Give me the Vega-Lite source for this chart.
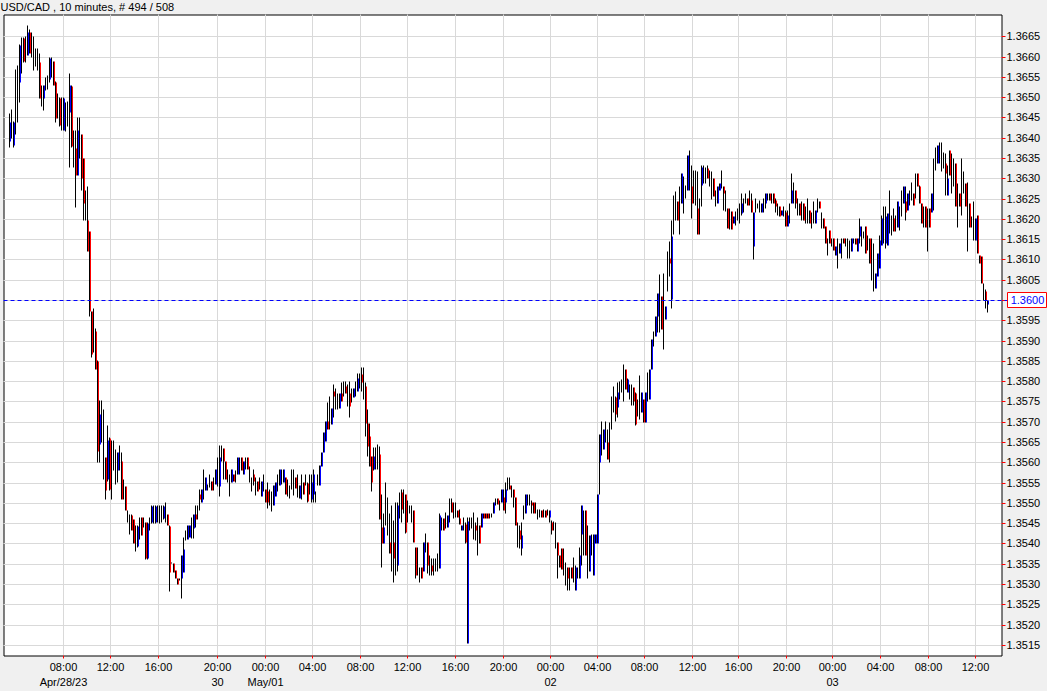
{
"$schema":"https://vega.github.io/schema/vega-lite/v6.json",
"width":998,"height":641,
"autosize":{"type":"none"},
"padding":{"left":3.5,"top":14.5,"right":45.5,"bottom":35.5},
"background":"#f0f0f0",
"title":{"text":"USD/CAD , 10 minutes, # 494 / 508","anchor":"start","frame":"group","offset":4,"dx":-3,"dy":11,"baseline":"alphabetic","font":"Liberation Sans","fontSize":11,"fontWeight":"normal","color":"#000000"},
"config":{"view":{"fill":"#ffffff","stroke":"#000000","strokeWidth":1},"axis":{"translate":0,"labelOverlap":false,"labelSeparation":0}},
"data":{"values":[
{"t":0,"o":1.36391,"h":1.3646,"l":1.36378,"c":1.3644},
{"t":1,"o":1.36435,"h":1.3647,"l":1.36399,"c":1.36435},
{"t":2,"o":1.36383,"h":1.36442,"l":1.36378,"c":1.3644},
{"t":3,"o":1.36489,"h":1.36569,"l":1.36409,"c":1.36489},
{"t":4,"o":1.3651,"h":1.36579,"l":1.3644,"c":1.3651},
{"t":5,"o":1.36538,"h":1.3663,"l":1.36489,"c":1.36628},
{"t":6,"o":1.36604,"h":1.36649,"l":1.36559,"c":1.36604},
{"t":7,"o":1.36645,"h":1.36649,"l":1.36587,"c":1.3659},
{"t":8,"o":1.36619,"h":1.3665,"l":1.36587,"c":1.36619},
{"t":9,"o":1.36605,"h":1.36679,"l":1.36605,"c":1.36661},
{"t":10,"o":1.36661,"h":1.36669,"l":1.3661,"c":1.3661},
{"t":11,"o":1.3663,"h":1.36661,"l":1.366,"c":1.3663},
{"t":12,"o":1.3661,"h":1.36651,"l":1.36567,"c":1.3661},
{"t":13,"o":1.366,"h":1.3662,"l":1.36578,"c":1.366},
{"t":14,"o":1.36593,"h":1.3662,"l":1.36567,"c":1.36593},
{"t":15,"o":1.36587,"h":1.3661,"l":1.36499,"c":1.36499},
{"t":16,"o":1.36505,"h":1.3653,"l":1.36479,"c":1.36505},
{"t":17,"o":1.36497,"h":1.3653,"l":1.36469,"c":1.3653},
{"t":18,"o":1.36534,"h":1.3655,"l":1.36518,"c":1.36534},
{"t":19,"o":1.36538,"h":1.36555,"l":1.3652,"c":1.36538},
{"t":20,"o":1.36546,"h":1.366,"l":1.36538,"c":1.36596},
{"t":21,"o":1.36575,"h":1.366,"l":1.3655,"c":1.36575},
{"t":22,"o":1.3659,"h":1.3659,"l":1.3653,"c":1.3653},
{"t":23,"o":1.36538,"h":1.3654,"l":1.3644,"c":1.36448},
{"t":24,"o":1.36479,"h":1.3651,"l":1.36448,"c":1.36479},
{"t":25,"o":1.36497,"h":1.36501,"l":1.3643,"c":1.36432},
{"t":26,"o":1.3646,"h":1.36501,"l":1.36419,"c":1.3646},
{"t":27,"o":1.36419,"h":1.36501,"l":1.36419,"c":1.36497},
{"t":28,"o":1.36453,"h":1.36489,"l":1.36417,"c":1.36453},
{"t":29,"o":1.3646,"h":1.36491,"l":1.36428,"c":1.3646},
{"t":30,"o":1.36464,"h":1.36559,"l":1.36329,"c":1.3653},
{"t":31,"o":1.36528,"h":1.3653,"l":1.36378,"c":1.3638},
{"t":32,"o":1.36374,"h":1.36419,"l":1.36329,"c":1.36374},
{"t":33,"o":1.36374,"h":1.36419,"l":1.36229,"c":1.36309},
{"t":34,"o":1.36309,"h":1.36451,"l":1.36309,"c":1.36419},
{"t":35,"o":1.364,"h":1.36451,"l":1.3635,"c":1.364},
{"t":36,"o":1.3641,"h":1.3641,"l":1.3627,"c":1.36301},
{"t":37,"o":1.3635,"h":1.3635,"l":1.36198,"c":1.36239},
{"t":38,"o":1.36235,"h":1.36272,"l":1.36198,"c":1.36235},
{"t":39,"o":1.36198,"h":1.36282,"l":1.36121,"c":1.36121},
{"t":40,"o":1.36171,"h":1.36171,"l":1.35961,"c":1.35973},
{"t":41,"o":1.35973,"h":1.35973,"l":1.3586,"c":1.35867},
{"t":42,"o":1.35926,"h":1.35981,"l":1.35871,"c":1.35926},
{"t":43,"o":1.35924,"h":1.35932,"l":1.3583,"c":1.3583},
{"t":44,"o":1.3585,"h":1.35852,"l":1.356,"c":1.35629},
{"t":45,"o":1.35645,"h":1.35754,"l":1.356,"c":1.35719},
{"t":46,"o":1.35702,"h":1.35754,"l":1.3565,"c":1.35702},
{"t":47,"o":1.35645,"h":1.35731,"l":1.35559,"c":1.35645},
{"t":48,"o":1.35613,"h":1.35613,"l":1.3551,"c":1.35531},
{"t":49,"o":1.35559,"h":1.35691,"l":1.35555,"c":1.35654},
{"t":50,"o":1.3566,"h":1.35662,"l":1.35531,"c":1.35533},
{"t":51,"o":1.35582,"h":1.35654,"l":1.3551,"c":1.35582},
{"t":52,"o":1.35617,"h":1.35654,"l":1.3558,"c":1.35617},
{"t":53,"o":1.3559,"h":1.35633,"l":1.35547,"c":1.3559},
{"t":54,"o":1.3558,"h":1.35625,"l":1.35551,"c":1.35625},
{"t":55,"o":1.35611,"h":1.35643,"l":1.3558,"c":1.35611},
{"t":56,"o":1.35604,"h":1.35625,"l":1.3551,"c":1.3551},
{"t":57,"o":1.35534,"h":1.35559,"l":1.3551,"c":1.35534},
{"t":58,"o":1.35541,"h":1.35541,"l":1.35482,"c":1.35482},
{"t":59,"o":1.35467,"h":1.35482,"l":1.35453,"c":1.35467},
{"t":60,"o":1.35448,"h":1.35473,"l":1.35424,"c":1.35448},
{"t":61,"o":1.35471,"h":1.35473,"l":1.35432,"c":1.35434},
{"t":62,"o":1.3546,"h":1.35461,"l":1.354,"c":1.35402},
{"t":63,"o":1.35413,"h":1.35445,"l":1.35381,"c":1.35413},
{"t":64,"o":1.35394,"h":1.35445,"l":1.35392,"c":1.35443},
{"t":65,"o":1.35438,"h":1.35465,"l":1.35412,"c":1.35438},
{"t":66,"o":1.35464,"h":1.35465,"l":1.3542,"c":1.35422},
{"t":67,"o":1.35453,"h":1.35465,"l":1.35441,"c":1.35453},
{"t":68,"o":1.35452,"h":1.35453,"l":1.35361,"c":1.35363},
{"t":69,"o":1.35363,"h":1.35453,"l":1.35361,"c":1.3545},
{"t":70,"o":1.35448,"h":1.35465,"l":1.35432,"c":1.35448},
{"t":71,"o":1.35453,"h":1.35494,"l":1.35451,"c":1.35492},
{"t":72,"o":1.35472,"h":1.35494,"l":1.35451,"c":1.35472},
{"t":73,"o":1.35453,"h":1.35494,"l":1.35451,"c":1.35492},
{"t":74,"o":1.35473,"h":1.35494,"l":1.35453,"c":1.35473},
{"t":75,"o":1.35472,"h":1.35494,"l":1.35451,"c":1.35472},
{"t":76,"o":1.35473,"h":1.35494,"l":1.35453,"c":1.35473},
{"t":77,"o":1.35463,"h":1.35494,"l":1.35461,"c":1.35492},
{"t":78,"o":1.35477,"h":1.35502,"l":1.35453,"c":1.35477},
{"t":79,"o":1.35472,"h":1.35473,"l":1.35445,"c":1.35446},
{"t":80,"o":1.35444,"h":1.35445,"l":1.35283,"c":1.3533},
{"t":81,"o":1.35353,"h":1.35355,"l":1.35351,"c":1.35353},
{"t":82,"o":1.35353,"h":1.35353,"l":1.3533,"c":1.3533},
{"t":83,"o":1.35334,"h":1.35334,"l":1.35314,"c":1.35314},
{"t":84,"o":1.35314,"h":1.35314,"l":1.35301,"c":1.35301},
{"t":85,"o":1.35312,"h":1.35314,"l":1.3531,"c":1.35312},
{"t":86,"o":1.35314,"h":1.35371,"l":1.35265,"c":1.35371},
{"t":87,"o":1.3533,"h":1.35416,"l":1.3533,"c":1.35387},
{"t":88,"o":1.3542,"h":1.35432,"l":1.35408,"c":1.3542},
{"t":89,"o":1.35412,"h":1.35445,"l":1.35412,"c":1.35445},
{"t":90,"o":1.35416,"h":1.35445,"l":1.35416,"c":1.35445},
{"t":91,"o":1.3544,"h":1.35465,"l":1.35414,"c":1.3544},
{"t":92,"o":1.35437,"h":1.35473,"l":1.35414,"c":1.35473},
{"t":93,"o":1.35473,"h":1.35494,"l":1.35441,"c":1.35461},
{"t":94,"o":1.35477,"h":1.35494,"l":1.35461,"c":1.35477},
{"t":95,"o":1.35523,"h":1.35533,"l":1.35482,"c":1.3551},
{"t":96,"o":1.35502,"h":1.35533,"l":1.35502,"c":1.35533},
{"t":97,"o":1.35547,"h":1.35584,"l":1.3551,"c":1.35547},
{"t":98,"o":1.35531,"h":1.35564,"l":1.35531,"c":1.35564},
{"t":99,"o":1.35539,"h":1.35547,"l":1.35531,"c":1.35539},
{"t":100,"o":1.35555,"h":1.35572,"l":1.35539,"c":1.35555},
{"t":101,"o":1.35555,"h":1.35555,"l":1.35531,"c":1.35531},
{"t":102,"o":1.35547,"h":1.35564,"l":1.35531,"c":1.35547},
{"t":103,"o":1.35547,"h":1.35584,"l":1.35547,"c":1.35584},
{"t":104,"o":1.35577,"h":1.35613,"l":1.35541,"c":1.35577},
{"t":105,"o":1.35541,"h":1.35643,"l":1.35518,"c":1.35613},
{"t":106,"o":1.35623,"h":1.35643,"l":1.35604,"c":1.35623},
{"t":107,"o":1.35635,"h":1.35635,"l":1.35559,"c":1.35604},
{"t":108,"o":1.35604,"h":1.35604,"l":1.35559,"c":1.35559},
{"t":109,"o":1.35567,"h":1.35584,"l":1.35551,"c":1.35567},
{"t":110,"o":1.35545,"h":1.35572,"l":1.35518,"c":1.35545},
{"t":111,"o":1.35551,"h":1.35584,"l":1.35551,"c":1.35584},
{"t":112,"o":1.35572,"h":1.35572,"l":1.35555,"c":1.35555},
{"t":113,"o":1.35565,"h":1.3558,"l":1.35551,"c":1.35565},
{"t":114,"o":1.35572,"h":1.35613,"l":1.35572,"c":1.35613},
{"t":115,"o":1.35593,"h":1.35613,"l":1.35572,"c":1.35593},
{"t":116,"o":1.35613,"h":1.35613,"l":1.3558,"c":1.3558},
{"t":117,"o":1.35571,"h":1.35604,"l":1.35571,"c":1.35604},
{"t":118,"o":1.35598,"h":1.35612,"l":1.35584,"c":1.35598},
{"t":119,"o":1.35612,"h":1.35612,"l":1.35584,"c":1.35584},
{"t":120,"o":1.35571,"h":1.35592,"l":1.35551,"c":1.35571},
{"t":121,"o":1.35546,"h":1.35563,"l":1.3553,"c":1.35546},
{"t":122,"o":1.35571,"h":1.35584,"l":1.35543,"c":1.35555},
{"t":123,"o":1.35541,"h":1.35563,"l":1.3552,"c":1.35541},
{"t":124,"o":1.35553,"h":1.35553,"l":1.3553,"c":1.3553},
{"t":125,"o":1.35548,"h":1.35563,"l":1.35533,"c":1.35548},
{"t":126,"o":1.35518,"h":1.35553,"l":1.35518,"c":1.35553},
{"t":127,"o":1.3555,"h":1.35571,"l":1.3553,"c":1.3555},
{"t":128,"o":1.35535,"h":1.35535,"l":1.35502,"c":1.35502},
{"t":129,"o":1.3553,"h":1.35551,"l":1.35487,"c":1.35502},
{"t":130,"o":1.35514,"h":1.35535,"l":1.35494,"c":1.35514},
{"t":131,"o":1.35505,"h":1.3553,"l":1.35481,"c":1.35505},
{"t":132,"o":1.35494,"h":1.35543,"l":1.35494,"c":1.35543},
{"t":133,"o":1.35518,"h":1.35551,"l":1.35518,"c":1.35551},
{"t":134,"o":1.3555,"h":1.35571,"l":1.3553,"c":1.3555},
{"t":135,"o":1.35543,"h":1.35584,"l":1.35543,"c":1.35584},
{"t":136,"o":1.35565,"h":1.35584,"l":1.35547,"c":1.35565},
{"t":137,"o":1.35551,"h":1.35584,"l":1.35551,"c":1.35584},
{"t":138,"o":1.35563,"h":1.35563,"l":1.35522,"c":1.35522},
{"t":139,"o":1.35538,"h":1.35559,"l":1.35518,"c":1.35538},
{"t":140,"o":1.35527,"h":1.35543,"l":1.35512,"c":1.35527},
{"t":141,"o":1.3556,"h":1.35584,"l":1.35535,"c":1.3556},
{"t":142,"o":1.35552,"h":1.35584,"l":1.3552,"c":1.35552},
{"t":143,"o":1.35563,"h":1.35563,"l":1.35536,"c":1.35536},
{"t":144,"o":1.35542,"h":1.35571,"l":1.35514,"c":1.35542},
{"t":145,"o":1.35512,"h":1.35543,"l":1.35512,"c":1.35543},
{"t":146,"o":1.3554,"h":1.35571,"l":1.3551,"c":1.3554},
{"t":147,"o":1.35551,"h":1.35551,"l":1.35522,"c":1.35522},
{"t":148,"o":1.35557,"h":1.35571,"l":1.35543,"c":1.35557},
{"t":149,"o":1.3555,"h":1.35551,"l":1.35502,"c":1.35504},
{"t":150,"o":1.35546,"h":1.35571,"l":1.35522,"c":1.35546},
{"t":151,"o":1.3551,"h":1.35571,"l":1.35502,"c":1.35551},
{"t":152,"o":1.35522,"h":1.35584,"l":1.35502,"c":1.35571},
{"t":153,"o":1.35516,"h":1.3553,"l":1.35502,"c":1.35516},
{"t":154,"o":1.35557,"h":1.35571,"l":1.35543,"c":1.35557},
{"t":155,"o":1.35543,"h":1.35594,"l":1.35543,"c":1.35594},
{"t":156,"o":1.35592,"h":1.35625,"l":1.35592,"c":1.35625},
{"t":157,"o":1.35625,"h":1.35674,"l":1.35625,"c":1.35674},
{"t":158,"o":1.35653,"h":1.35702,"l":1.35653,"c":1.35702},
{"t":159,"o":1.35702,"h":1.35748,"l":1.35682,"c":1.35682},
{"t":160,"o":1.35723,"h":1.35764,"l":1.35682,"c":1.35723},
{"t":161,"o":1.35694,"h":1.35735,"l":1.35694,"c":1.35735},
{"t":162,"o":1.35776,"h":1.35793,"l":1.35711,"c":1.35764},
{"t":163,"o":1.35757,"h":1.35784,"l":1.35731,"c":1.35757},
{"t":164,"o":1.35751,"h":1.35772,"l":1.35731,"c":1.35751},
{"t":165,"o":1.35735,"h":1.35772,"l":1.35735,"c":1.35772},
{"t":166,"o":1.35772,"h":1.35797,"l":1.35752,"c":1.35752},
{"t":167,"o":1.35782,"h":1.35801,"l":1.35764,"c":1.35782},
{"t":168,"o":1.35788,"h":1.35801,"l":1.35772,"c":1.35772},
{"t":169,"o":1.35766,"h":1.35793,"l":1.35739,"c":1.35766},
{"t":170,"o":1.35772,"h":1.35801,"l":1.35711,"c":1.35739},
{"t":171,"o":1.35766,"h":1.35784,"l":1.35748,"c":1.35766},
{"t":172,"o":1.3576,"h":1.35784,"l":1.3576,"c":1.35784},
{"t":173,"o":1.35782,"h":1.35801,"l":1.35764,"c":1.35782},
{"t":174,"o":1.35776,"h":1.35821,"l":1.35776,"c":1.35809},
{"t":175,"o":1.35802,"h":1.35821,"l":1.35784,"c":1.35802},
{"t":176,"o":1.35817,"h":1.35834,"l":1.35776,"c":1.35797},
{"t":177,"o":1.35795,"h":1.35834,"l":1.35756,"c":1.35795},
{"t":178,"o":1.35788,"h":1.35797,"l":1.35666,"c":1.35698},
{"t":179,"o":1.35698,"h":1.35731,"l":1.35616,"c":1.35641},
{"t":180,"o":1.35666,"h":1.35698,"l":1.35592,"c":1.35592},
{"t":181,"o":1.35616,"h":1.35616,"l":1.3553,"c":1.35551},
{"t":182,"o":1.35584,"h":1.35637,"l":1.3558,"c":1.35616},
{"t":183,"o":1.3561,"h":1.35637,"l":1.35584,"c":1.3561},
{"t":184,"o":1.35614,"h":1.35645,"l":1.35584,"c":1.35614},
{"t":185,"o":1.35621,"h":1.35641,"l":1.35461,"c":1.35461},
{"t":186,"o":1.35441,"h":1.35523,"l":1.35343,"c":1.354},
{"t":187,"o":1.354,"h":1.35474,"l":1.354,"c":1.35441},
{"t":188,"o":1.35498,"h":1.35552,"l":1.35445,"c":1.35498},
{"t":189,"o":1.35468,"h":1.35515,"l":1.35421,"c":1.35468},
{"t":190,"o":1.35404,"h":1.35474,"l":1.35376,"c":1.35376},
{"t":191,"o":1.35412,"h":1.35494,"l":1.35331,"c":1.35412},
{"t":192,"o":1.35404,"h":1.35457,"l":1.35306,"c":1.35363},
{"t":193,"o":1.35412,"h":1.35503,"l":1.35322,"c":1.35412},
{"t":194,"o":1.35347,"h":1.35503,"l":1.35331,"c":1.35494},
{"t":195,"o":1.35494,"h":1.35527,"l":1.35462,"c":1.35494},
{"t":196,"o":1.35527,"h":1.35534,"l":1.35453,"c":1.35486},
{"t":197,"o":1.35504,"h":1.35534,"l":1.35474,"c":1.35504},
{"t":198,"o":1.35523,"h":1.35523,"l":1.35425,"c":1.35428},
{"t":199,"o":1.3548,"h":1.35507,"l":1.35453,"c":1.3548},
{"t":200,"o":1.35484,"h":1.35494,"l":1.35474,"c":1.35484},
{"t":201,"o":1.35473,"h":1.35494,"l":1.35453,"c":1.35473},
{"t":202,"o":1.35482,"h":1.35482,"l":1.35404,"c":1.35404},
{"t":203,"o":1.35392,"h":1.35392,"l":1.35314,"c":1.35322},
{"t":204,"o":1.35357,"h":1.35392,"l":1.35322,"c":1.35357},
{"t":205,"o":1.35324,"h":1.35343,"l":1.35306,"c":1.35324},
{"t":206,"o":1.35343,"h":1.35343,"l":1.35314,"c":1.35314},
{"t":207,"o":1.35331,"h":1.35404,"l":1.35331,"c":1.35404},
{"t":208,"o":1.35402,"h":1.35425,"l":1.3538,"c":1.35402},
{"t":209,"o":1.35404,"h":1.35404,"l":1.35326,"c":1.35347},
{"t":210,"o":1.35346,"h":1.35371,"l":1.35322,"c":1.35346},
{"t":211,"o":1.35347,"h":1.35363,"l":1.35322,"c":1.35331},
{"t":212,"o":1.35342,"h":1.35363,"l":1.35322,"c":1.35342},
{"t":213,"o":1.35347,"h":1.35363,"l":1.35331,"c":1.35347},
{"t":214,"o":1.35353,"h":1.35376,"l":1.35331,"c":1.35353},
{"t":215,"o":1.35339,"h":1.35474,"l":1.35339,"c":1.3547},
{"t":216,"o":1.3545,"h":1.35466,"l":1.35433,"c":1.3545},
{"t":217,"o":1.35462,"h":1.35462,"l":1.35433,"c":1.35433},
{"t":218,"o":1.35457,"h":1.35478,"l":1.35437,"c":1.35457},
{"t":219,"o":1.35441,"h":1.3547,"l":1.35441,"c":1.3547},
{"t":220,"o":1.35482,"h":1.35511,"l":1.35453,"c":1.35482},
{"t":221,"o":1.35503,"h":1.35512,"l":1.35478,"c":1.35478},
{"t":222,"o":1.35482,"h":1.35503,"l":1.35462,"c":1.35482},
{"t":223,"o":1.35484,"h":1.35503,"l":1.35466,"c":1.35484},
{"t":224,"o":1.35482,"h":1.35482,"l":1.35466,"c":1.35466},
{"t":225,"o":1.35462,"h":1.35486,"l":1.35449,"c":1.35449},
{"t":226,"o":1.35433,"h":1.35445,"l":1.35433,"c":1.35445},
{"t":227,"o":1.3545,"h":1.35466,"l":1.35433,"c":1.3545},
{"t":228,"o":1.35449,"h":1.35453,"l":1.354,"c":1.35404},
{"t":229,"o":1.35155,"h":1.35466,"l":1.35154,"c":1.35455},
{"t":230,"o":1.3545,"h":1.35466,"l":1.35433,"c":1.3545},
{"t":231,"o":1.35451,"h":1.35466,"l":1.35437,"c":1.35451},
{"t":232,"o":1.35445,"h":1.35478,"l":1.35412,"c":1.35445},
{"t":233,"o":1.35445,"h":1.35453,"l":1.35408,"c":1.35433},
{"t":234,"o":1.35418,"h":1.35466,"l":1.35371,"c":1.35418},
{"t":235,"o":1.35445,"h":1.35445,"l":1.354,"c":1.354},
{"t":236,"o":1.35441,"h":1.35474,"l":1.35441,"c":1.35474},
{"t":237,"o":1.35474,"h":1.35474,"l":1.35462,"c":1.35462},
{"t":238,"o":1.35474,"h":1.35474,"l":1.35462,"c":1.35462},
{"t":239,"o":1.35474,"h":1.35474,"l":1.35462,"c":1.35462},
{"t":240,"o":1.35468,"h":1.35474,"l":1.35462,"c":1.35468},
{"t":241,"o":1.3547,"h":1.35474,"l":1.35466,"c":1.3547},
{"t":242,"o":1.35474,"h":1.35503,"l":1.35474,"c":1.35503},
{"t":243,"o":1.35503,"h":1.35512,"l":1.35494,"c":1.35503},
{"t":244,"o":1.35512,"h":1.35512,"l":1.35498,"c":1.35498},
{"t":245,"o":1.35494,"h":1.35507,"l":1.35482,"c":1.35494},
{"t":246,"o":1.35502,"h":1.35533,"l":1.35502,"c":1.35533},
{"t":247,"o":1.35515,"h":1.35533,"l":1.35482,"c":1.35482},
{"t":248,"o":1.35502,"h":1.35551,"l":1.35474,"c":1.35535},
{"t":249,"o":1.35547,"h":1.35564,"l":1.35531,"c":1.35547},
{"t":250,"o":1.35543,"h":1.35564,"l":1.35535,"c":1.35535},
{"t":251,"o":1.35529,"h":1.35543,"l":1.35515,"c":1.35529},
{"t":252,"o":1.35535,"h":1.35535,"l":1.3549,"c":1.35515},
{"t":253,"o":1.35515,"h":1.35515,"l":1.35445,"c":1.35445},
{"t":254,"o":1.35422,"h":1.35453,"l":1.35392,"c":1.35422},
{"t":255,"o":1.35433,"h":1.35445,"l":1.35388,"c":1.35412},
{"t":256,"o":1.35388,"h":1.35453,"l":1.35371,"c":1.3542},
{"t":257,"o":1.35477,"h":1.35494,"l":1.35461,"c":1.35477},
{"t":258,"o":1.35474,"h":1.35523,"l":1.35474,"c":1.35523},
{"t":259,"o":1.35508,"h":1.35523,"l":1.35494,"c":1.35508},
{"t":260,"o":1.35508,"h":1.35523,"l":1.35494,"c":1.35508},
{"t":261,"o":1.35502,"h":1.35506,"l":1.35474,"c":1.35494},
{"t":262,"o":1.35502,"h":1.35502,"l":1.35474,"c":1.35474},
{"t":263,"o":1.35488,"h":1.35502,"l":1.35474,"c":1.35488},
{"t":264,"o":1.35473,"h":1.35486,"l":1.35461,"c":1.35473},
{"t":265,"o":1.35475,"h":1.35486,"l":1.35465,"c":1.35475},
{"t":266,"o":1.35482,"h":1.35482,"l":1.35465,"c":1.35465},
{"t":267,"o":1.35475,"h":1.35486,"l":1.35465,"c":1.35475},
{"t":268,"o":1.35482,"h":1.35482,"l":1.35465,"c":1.35465},
{"t":269,"o":1.35477,"h":1.35486,"l":1.35469,"c":1.35477},
{"t":270,"o":1.35465,"h":1.35483,"l":1.35453,"c":1.35483},
{"t":271,"o":1.35453,"h":1.35457,"l":1.35424,"c":1.35433},
{"t":272,"o":1.35444,"h":1.35455,"l":1.35433,"c":1.35444},
{"t":273,"o":1.3542,"h":1.35453,"l":1.35388,"c":1.3542},
{"t":274,"o":1.35404,"h":1.35404,"l":1.35314,"c":1.35371},
{"t":275,"o":1.35371,"h":1.35371,"l":1.35343,"c":1.35343},
{"t":276,"o":1.35388,"h":1.35388,"l":1.35338,"c":1.35338},
{"t":277,"o":1.35355,"h":1.35388,"l":1.35322,"c":1.35355},
{"t":278,"o":1.35326,"h":1.35355,"l":1.35298,"c":1.35326},
{"t":279,"o":1.35343,"h":1.35343,"l":1.35285,"c":1.35314},
{"t":280,"o":1.35314,"h":1.35343,"l":1.35285,"c":1.35314},
{"t":281,"o":1.35343,"h":1.35343,"l":1.35314,"c":1.35314},
{"t":282,"o":1.35336,"h":1.35367,"l":1.35306,"c":1.35336},
{"t":283,"o":1.35285,"h":1.35347,"l":1.35285,"c":1.35343},
{"t":284,"o":1.35328,"h":1.35343,"l":1.35314,"c":1.35328},
{"t":285,"o":1.35314,"h":1.35392,"l":1.35314,"c":1.35371},
{"t":286,"o":1.35424,"h":1.35494,"l":1.35347,"c":1.35494},
{"t":287,"o":1.35426,"h":1.35482,"l":1.35371,"c":1.35426},
{"t":288,"o":1.35482,"h":1.35482,"l":1.35371,"c":1.35371},
{"t":289,"o":1.3538,"h":1.35445,"l":1.35314,"c":1.3538},
{"t":290,"o":1.35331,"h":1.35421,"l":1.35331,"c":1.35421},
{"t":291,"o":1.35397,"h":1.35424,"l":1.35371,"c":1.35397},
{"t":292,"o":1.35322,"h":1.35424,"l":1.35322,"c":1.35424},
{"t":293,"o":1.354,"h":1.35424,"l":1.354,"c":1.35424},
{"t":294,"o":1.354,"h":1.35523,"l":1.354,"c":1.35523},
{"t":295,"o":1.35601,"h":1.3567,"l":1.35523,"c":1.3567},
{"t":296,"o":1.3566,"h":1.35703,"l":1.35617,"c":1.3566},
{"t":297,"o":1.35633,"h":1.35682,"l":1.35633,"c":1.35682},
{"t":298,"o":1.35676,"h":1.35703,"l":1.3565,"c":1.35676},
{"t":299,"o":1.3565,"h":1.35682,"l":1.35609,"c":1.35609},
{"t":300,"o":1.3565,"h":1.35699,"l":1.35601,"c":1.3565},
{"t":301,"o":1.35723,"h":1.35764,"l":1.35682,"c":1.35723},
{"t":302,"o":1.35756,"h":1.35789,"l":1.35723,"c":1.35756},
{"t":303,"o":1.3576,"h":1.35764,"l":1.35703,"c":1.3572},
{"t":304,"o":1.35736,"h":1.35797,"l":1.35711,"c":1.35773},
{"t":305,"o":1.35778,"h":1.35801,"l":1.35756,"c":1.35778},
{"t":306,"o":1.35789,"h":1.35805,"l":1.35773,"c":1.35789},
{"t":307,"o":1.35797,"h":1.35842,"l":1.35752,"c":1.35797},
{"t":308,"o":1.3583,"h":1.3583,"l":1.35781,"c":1.35781},
{"t":309,"o":1.35773,"h":1.35809,"l":1.35773,"c":1.35805},
{"t":310,"o":1.35774,"h":1.35793,"l":1.35756,"c":1.35774},
{"t":311,"o":1.35766,"h":1.35793,"l":1.3574,"c":1.35766},
{"t":312,"o":1.35785,"h":1.35785,"l":1.3574,"c":1.3575},
{"t":313,"o":1.3577,"h":1.35773,"l":1.35691,"c":1.35695},
{"t":314,"o":1.35735,"h":1.35756,"l":1.35715,"c":1.35735},
{"t":315,"o":1.3576,"h":1.35814,"l":1.35707,"c":1.3576},
{"t":316,"o":1.35723,"h":1.35773,"l":1.35723,"c":1.35773},
{"t":317,"o":1.35756,"h":1.35756,"l":1.35699,"c":1.35699},
{"t":318,"o":1.35699,"h":1.35773,"l":1.35699,"c":1.35773},
{"t":319,"o":1.35787,"h":1.35822,"l":1.35752,"c":1.35787},
{"t":320,"o":1.35756,"h":1.3583,"l":1.35756,"c":1.3583},
{"t":321,"o":1.3583,"h":1.35904,"l":1.3583,"c":1.35904},
{"t":322,"o":1.35905,"h":1.35924,"l":1.35887,"c":1.35905},
{"t":323,"o":1.35912,"h":1.35961,"l":1.35912,"c":1.35961},
{"t":324,"o":1.35961,"h":1.36018,"l":1.3592,"c":1.36018},
{"t":325,"o":1.35991,"h":1.36063,"l":1.3592,"c":1.35991},
{"t":326,"o":1.3601,"h":1.3601,"l":1.35928,"c":1.35928},
{"t":327,"o":1.35973,"h":1.36067,"l":1.35879,"c":1.35973},
{"t":328,"o":1.35953,"h":1.35985,"l":1.35953,"c":1.35985},
{"t":329,"o":1.36072,"h":1.36121,"l":1.36022,"c":1.36072},
{"t":330,"o":1.36104,"h":1.36145,"l":1.36059,"c":1.36092},
{"t":331,"o":1.36002,"h":1.36198,"l":1.35981,"c":1.36157},
{"t":332,"o":1.36211,"h":1.3626,"l":1.36162,"c":1.36211},
{"t":333,"o":1.36233,"h":1.36268,"l":1.36198,"c":1.36233},
{"t":334,"o":1.36243,"h":1.36243,"l":1.36198,"c":1.36198},
{"t":335,"o":1.36221,"h":1.3628,"l":1.36162,"c":1.36221},
{"t":336,"o":1.36239,"h":1.36313,"l":1.36239,"c":1.36313},
{"t":337,"o":1.3626,"h":1.36305,"l":1.36215,"c":1.3626},
{"t":338,"o":1.36268,"h":1.36284,"l":1.36252,"c":1.36268},
{"t":339,"o":1.36272,"h":1.36358,"l":1.36272,"c":1.36358},
{"t":340,"o":1.36321,"h":1.3637,"l":1.36272,"c":1.36321},
{"t":341,"o":1.3628,"h":1.36334,"l":1.36203,"c":1.36239},
{"t":342,"o":1.3628,"h":1.36321,"l":1.36239,"c":1.3628},
{"t":343,"o":1.36278,"h":1.36321,"l":1.36235,"c":1.36278},
{"t":344,"o":1.36227,"h":1.36317,"l":1.36162,"c":1.36162},
{"t":345,"o":1.36207,"h":1.36252,"l":1.36162,"c":1.36207},
{"t":346,"o":1.36284,"h":1.36334,"l":1.36231,"c":1.36329},
{"t":347,"o":1.36312,"h":1.36334,"l":1.36289,"c":1.36312},
{"t":348,"o":1.36309,"h":1.36329,"l":1.36289,"c":1.36309},
{"t":349,"o":1.36325,"h":1.36334,"l":1.36301,"c":1.36301},
{"t":350,"o":1.36301,"h":1.36321,"l":1.3628,"c":1.36301},
{"t":351,"o":1.36283,"h":1.36317,"l":1.36248,"c":1.36283},
{"t":352,"o":1.36301,"h":1.36301,"l":1.36256,"c":1.36256},
{"t":353,"o":1.36252,"h":1.36272,"l":1.36231,"c":1.36252},
{"t":354,"o":1.36239,"h":1.3628,"l":1.36239,"c":1.3628},
{"t":355,"o":1.36272,"h":1.36289,"l":1.36272,"c":1.36289},
{"t":356,"o":1.36299,"h":1.36321,"l":1.36276,"c":1.36299},
{"t":357,"o":1.3628,"h":1.3628,"l":1.36223,"c":1.36264},
{"t":358,"o":1.36246,"h":1.36272,"l":1.36219,"c":1.36246},
{"t":359,"o":1.36227,"h":1.36227,"l":1.36178,"c":1.36178},
{"t":360,"o":1.362,"h":1.36227,"l":1.36174,"c":1.362},
{"t":361,"o":1.36219,"h":1.36219,"l":1.36174,"c":1.36174},
{"t":362,"o":1.3619,"h":1.36207,"l":1.3619,"c":1.36207},
{"t":363,"o":1.36203,"h":1.36219,"l":1.36186,"c":1.36203},
{"t":364,"o":1.36213,"h":1.36227,"l":1.36198,"c":1.36213},
{"t":365,"o":1.36215,"h":1.36239,"l":1.3619,"c":1.36215},
{"t":366,"o":1.36214,"h":1.36264,"l":1.3621,"c":1.36239},
{"t":367,"o":1.36235,"h":1.36251,"l":1.36218,"c":1.36235},
{"t":368,"o":1.36252,"h":1.36264,"l":1.36239,"c":1.36252},
{"t":369,"o":1.36251,"h":1.36251,"l":1.36235,"c":1.36235},
{"t":370,"o":1.36254,"h":1.36272,"l":1.36235,"c":1.36254},
{"t":371,"o":1.36247,"h":1.36264,"l":1.36218,"c":1.36218},
{"t":372,"o":1.36132,"h":1.36218,"l":1.361,"c":1.36218},
{"t":373,"o":1.36235,"h":1.36251,"l":1.36218,"c":1.36235},
{"t":374,"o":1.36233,"h":1.36239,"l":1.36227,"c":1.36233},
{"t":375,"o":1.36233,"h":1.36247,"l":1.36218,"c":1.36233},
{"t":376,"o":1.36218,"h":1.36239,"l":1.36218,"c":1.36239},
{"t":377,"o":1.36235,"h":1.36251,"l":1.36218,"c":1.36235},
{"t":378,"o":1.36239,"h":1.36264,"l":1.36227,"c":1.36264},
{"t":379,"o":1.36256,"h":1.36264,"l":1.36247,"c":1.36256},
{"t":380,"o":1.36264,"h":1.36264,"l":1.36247,"c":1.36247},
{"t":381,"o":1.36252,"h":1.36264,"l":1.36239,"c":1.36252},
{"t":382,"o":1.36264,"h":1.36264,"l":1.36239,"c":1.36239},
{"t":383,"o":1.36247,"h":1.36251,"l":1.36218,"c":1.36231},
{"t":384,"o":1.36225,"h":1.36239,"l":1.3621,"c":1.36225},
{"t":385,"o":1.36231,"h":1.36231,"l":1.36206,"c":1.36206},
{"t":386,"o":1.3621,"h":1.36223,"l":1.3621,"c":1.36223},
{"t":387,"o":1.36219,"h":1.36231,"l":1.36206,"c":1.36219},
{"t":388,"o":1.36218,"h":1.36223,"l":1.36182,"c":1.36182},
{"t":389,"o":1.36182,"h":1.36223,"l":1.36182,"c":1.3621},
{"t":390,"o":1.36215,"h":1.36239,"l":1.3619,"c":1.36215},
{"t":391,"o":1.36239,"h":1.36313,"l":1.36239,"c":1.36272},
{"t":392,"o":1.36266,"h":1.36292,"l":1.36239,"c":1.36266},
{"t":393,"o":1.36272,"h":1.36272,"l":1.36227,"c":1.36239},
{"t":394,"o":1.36231,"h":1.36251,"l":1.3621,"c":1.36231},
{"t":395,"o":1.36239,"h":1.36239,"l":1.3621,"c":1.3621},
{"t":396,"o":1.36221,"h":1.36243,"l":1.36198,"c":1.36221},
{"t":397,"o":1.36239,"h":1.36239,"l":1.36198,"c":1.36198},
{"t":398,"o":1.36211,"h":1.36231,"l":1.3619,"c":1.36211},
{"t":399,"o":1.36221,"h":1.36251,"l":1.3619,"c":1.36221},
{"t":400,"o":1.36223,"h":1.36223,"l":1.3619,"c":1.3619},
{"t":401,"o":1.36198,"h":1.36218,"l":1.36178,"c":1.36198},
{"t":402,"o":1.36217,"h":1.36243,"l":1.3619,"c":1.36217},
{"t":403,"o":1.3619,"h":1.36223,"l":1.3619,"c":1.36223},
{"t":404,"o":1.36235,"h":1.36251,"l":1.36218,"c":1.36235},
{"t":405,"o":1.36243,"h":1.36243,"l":1.36227,"c":1.36227},
{"t":406,"o":1.36198,"h":1.36218,"l":1.36178,"c":1.36198},
{"t":407,"o":1.36202,"h":1.36202,"l":1.36178,"c":1.36178},
{"t":408,"o":1.36182,"h":1.36182,"l":1.36141,"c":1.36141},
{"t":409,"o":1.36133,"h":1.36153,"l":1.36112,"c":1.36133},
{"t":410,"o":1.36173,"h":1.36173,"l":1.36141,"c":1.36141},
{"t":411,"o":1.36143,"h":1.36153,"l":1.36132,"c":1.36143},
{"t":412,"o":1.36153,"h":1.36153,"l":1.36124,"c":1.36124},
{"t":413,"o":1.36112,"h":1.36132,"l":1.36112,"c":1.36132},
{"t":414,"o":1.36116,"h":1.36153,"l":1.36079,"c":1.36116},
{"t":415,"o":1.36116,"h":1.36141,"l":1.36116,"c":1.36141},
{"t":416,"o":1.36129,"h":1.36153,"l":1.36104,"c":1.36129},
{"t":417,"o":1.36153,"h":1.36153,"l":1.36141,"c":1.36141},
{"t":418,"o":1.36143,"h":1.36153,"l":1.36132,"c":1.36143},
{"t":419,"o":1.36129,"h":1.36153,"l":1.36104,"c":1.36129},
{"t":420,"o":1.36127,"h":1.36149,"l":1.36104,"c":1.36127},
{"t":421,"o":1.3612,"h":1.36153,"l":1.3612,"c":1.36153},
{"t":422,"o":1.36147,"h":1.36153,"l":1.36141,"c":1.36147},
{"t":423,"o":1.36153,"h":1.36153,"l":1.36137,"c":1.36137},
{"t":424,"o":1.3612,"h":1.36153,"l":1.3612,"c":1.36153},
{"t":425,"o":1.36157,"h":1.36202,"l":1.36141,"c":1.36182},
{"t":426,"o":1.36157,"h":1.36182,"l":1.36132,"c":1.36157},
{"t":427,"o":1.36161,"h":1.36169,"l":1.36153,"c":1.36161},
{"t":428,"o":1.36182,"h":1.36182,"l":1.36116,"c":1.36116},
{"t":429,"o":1.36143,"h":1.36161,"l":1.36124,"c":1.36143},
{"t":430,"o":1.36153,"h":1.36153,"l":1.36092,"c":1.36092},
{"t":431,"o":1.36102,"h":1.36153,"l":1.3605,"c":1.36102},
{"t":432,"o":1.36082,"h":1.36141,"l":1.36022,"c":1.36082},
{"t":433,"o":1.3603,"h":1.36067,"l":1.3603,"c":1.36067},
{"t":434,"o":1.36059,"h":1.36116,"l":1.36059,"c":1.36116},
{"t":435,"o":1.36079,"h":1.36161,"l":1.36079,"c":1.36149},
{"t":436,"o":1.36136,"h":1.3621,"l":1.36136,"c":1.36202},
{"t":437,"o":1.36186,"h":1.36231,"l":1.36141,"c":1.36186},
{"t":438,"o":1.36141,"h":1.36231,"l":1.36128,"c":1.36206},
{"t":439,"o":1.36136,"h":1.36214,"l":1.36136,"c":1.36214},
{"t":440,"o":1.36219,"h":1.36272,"l":1.36165,"c":1.36219},
{"t":441,"o":1.36186,"h":1.3621,"l":1.36161,"c":1.36186},
{"t":442,"o":1.36202,"h":1.36227,"l":1.36169,"c":1.36169},
{"t":443,"o":1.3619,"h":1.3621,"l":1.36169,"c":1.3619},
{"t":444,"o":1.36181,"h":1.36243,"l":1.36181,"c":1.36243},
{"t":445,"o":1.36202,"h":1.36231,"l":1.36173,"c":1.36202},
{"t":446,"o":1.36239,"h":1.36272,"l":1.36206,"c":1.36239},
{"t":447,"o":1.36239,"h":1.3628,"l":1.36239,"c":1.3628},
{"t":448,"o":1.36243,"h":1.3628,"l":1.36198,"c":1.36218},
{"t":449,"o":1.36222,"h":1.36263,"l":1.36222,"c":1.36263},
{"t":450,"o":1.36254,"h":1.36272,"l":1.36235,"c":1.36254},
{"t":451,"o":1.3627,"h":1.36292,"l":1.36247,"c":1.3627},
{"t":452,"o":1.36263,"h":1.36263,"l":1.36235,"c":1.36235},
{"t":453,"o":1.36282,"h":1.36313,"l":1.36251,"c":1.36282},
{"t":454,"o":1.36313,"h":1.36313,"l":1.3628,"c":1.3628},
{"t":455,"o":1.3628,"h":1.36284,"l":1.36239,"c":1.36239},
{"t":456,"o":1.36239,"h":1.36239,"l":1.3619,"c":1.3619},
{"t":457,"o":1.36206,"h":1.36231,"l":1.36181,"c":1.36206},
{"t":458,"o":1.36231,"h":1.36231,"l":1.36181,"c":1.36181},
{"t":459,"o":1.36174,"h":1.36227,"l":1.3612,"c":1.36174},
{"t":460,"o":1.36227,"h":1.36227,"l":1.36181,"c":1.36181},
{"t":461,"o":1.36218,"h":1.36263,"l":1.36218,"c":1.36263},
{"t":462,"o":1.36286,"h":1.36349,"l":1.36222,"c":1.36286},
{"t":463,"o":1.3635,"h":1.36378,"l":1.36321,"c":1.3635},
{"t":464,"o":1.36337,"h":1.36382,"l":1.36337,"c":1.36382},
{"t":465,"o":1.36364,"h":1.3639,"l":1.36337,"c":1.36364},
{"t":466,"o":1.36354,"h":1.3639,"l":1.36317,"c":1.36354},
{"t":467,"o":1.36346,"h":1.36366,"l":1.36325,"c":1.36346},
{"t":468,"o":1.36337,"h":1.36362,"l":1.36259,"c":1.36313},
{"t":469,"o":1.36259,"h":1.36333,"l":1.36259,"c":1.363},
{"t":470,"o":1.3637,"h":1.3637,"l":1.36308,"c":1.36308},
{"t":471,"o":1.36313,"h":1.36362,"l":1.36263,"c":1.36313},
{"t":472,"o":1.36315,"h":1.36349,"l":1.3628,"c":1.36315},
{"t":473,"o":1.36337,"h":1.36337,"l":1.36231,"c":1.36231},
{"t":474,"o":1.36235,"h":1.36288,"l":1.36181,"c":1.36235},
{"t":475,"o":1.36263,"h":1.36263,"l":1.36231,"c":1.36231},
{"t":476,"o":1.3628,"h":1.36349,"l":1.3621,"c":1.3628},
{"t":477,"o":1.3629,"h":1.36317,"l":1.36263,"c":1.3629},
{"t":478,"o":1.36288,"h":1.36288,"l":1.36231,"c":1.36231},
{"t":479,"o":1.36206,"h":1.36292,"l":1.3612,"c":1.36206},
{"t":480,"o":1.36239,"h":1.36239,"l":1.36181,"c":1.36181},
{"t":481,"o":1.36194,"h":1.36206,"l":1.36181,"c":1.36194},
{"t":482,"o":1.36196,"h":1.36243,"l":1.36149,"c":1.36196},
{"t":483,"o":1.36149,"h":1.36202,"l":1.36149,"c":1.36202},
{"t":484,"o":1.3621,"h":1.3621,"l":1.36116,"c":1.36116},
{"t":485,"o":1.36112,"h":1.36112,"l":1.36091,"c":1.36091},
{"t":486,"o":1.36108,"h":1.36108,"l":1.36042,"c":1.36042},
{"t":487,"o":1.36022,"h":1.36042,"l":1.36001,"c":1.36022},
{"t":488,"o":1.36022,"h":1.36026,"l":1.35981,"c":1.36001},
{"t":489,"o":1.35989,"h":1.36001,"l":1.3597,"c":1.36}
]},
"layer":[
{"mark":{"type":"rule","color":"#000000","strokeWidth":1},
 "encoding":{
  "x":{"field":"t","type":"quantitative","scale":{"domain":[-0.5,493.5],"round":true,"nice":false,"zero":false},
   "axis":{"values":[27,50.5,74.5,104,128,151.5,175.5,199,223,247,270.5,294,317.5,341.5,364.5,388.5,411.5,435.5,459.5,483],"tickCount":100,
    "labelExpr":"datum.value==27?['08:00','Apr/28/23']:datum.value==104?['20:00','30']:datum.value==128?['00:00','May/01']:datum.value==270.5?['00:00','02']:datum.value==411.5?['00:00','03']:indexof([50.5,199,341.5,483],datum.value)>=0?'12:00':indexof([74.5,223,364.5],datum.value)>=0?'16:00':indexof([247,388.5],datum.value)>=0?'20:00':indexof([151.5,294,435.5],datum.value)>=0?'04:00':'08:00'",
    "grid":true,"gridColor":"#d9d9d9","gridWidth":1,"domain":false,"ticks":true,"tickColor":"#ff0000","tickSize":3,"tickWidth":1,
    "labelFont":"Liberation Sans","labelFontSize":11,"labelColor":"#000000","labelPadding":3,"labelLineHeight":15,
    "labelOverlap":false,"labelBound":false,"labelFlush":false,"title":null,"translate":0}},
  "y":{"field":"l","type":"quantitative","scale":{"domain":[1.35125,1.36705],"round":true,"nice":false,"zero":false},
   "axis":{"orient":"right","values":[1.3515,1.352,1.3525,1.353,1.3535,1.354,1.3545,1.355,1.3555,1.356,1.3565,1.357,1.3575,1.358,1.3585,1.359,1.3595,1.36,1.3605,1.361,1.3615,1.362,1.3625,1.363,1.3635,1.364,1.3645,1.365,1.3655,1.366,1.3665],"tickCount":100,
    "format":".4f","labelExpr":"datum.value==1.36?'':format(datum.value,'.4f')",
    "grid":true,"gridColor":"#d9d9d9","gridWidth":1,"domain":false,"ticks":true,"tickColor":"#ff0000","tickSize":4,"tickWidth":1,
    "labelFont":"Liberation Sans","labelFontSize":11,"labelColor":"#000000","labelPadding":1,"labelSeparation":0,
    "labelOverlap":false,"labelBound":false,"labelFlush":false,"title":null,"translate":0}},
  "y2":{"field":"h"}}},
{"mark":{"type":"bar","width":1,"xOffset":1},
 "encoding":{
  "x":{"field":"t","type":"quantitative"},
  "y":{"field":"o","type":"quantitative"},
  "y2":{"field":"c"},
  "color":{"condition":{"test":"datum.c > datum.o","value":"#0000ff"},"value":"#ff0000"}}},
{"data":{"values":[{"price":1.36}]},
 "mark":{"type":"rule","color":"#0000ff","strokeDash":[4,3],"strokeWidth":1},
 "encoding":{"y":{"field":"price","type":"quantitative"},"x":{"datum":-3},"x2":{"datum":499}}},
{"data":{"values":[{"price":1.36,"label":"1.3600"}]},
 "mark":{"type":"rect","fill":"#ffffff","stroke":"#ff0000","strokeWidth":1},
 "encoding":{"x":{"datum":499},"x2":{"datum":518.5},"y":{"datum":1.3602},"y2":{"datum":1.35983}}},
{"data":{"values":[{"price":1.36,"label":"1.3600"}]},
 "mark":{"type":"text","font":"Liberation Sans","fontSize":11,"color":"#0000ff","align":"center","baseline":"middle"},
 "encoding":{"x":{"datum":508.75},"y":{"field":"price","type":"quantitative"},"text":{"field":"label"}}}
]
}
